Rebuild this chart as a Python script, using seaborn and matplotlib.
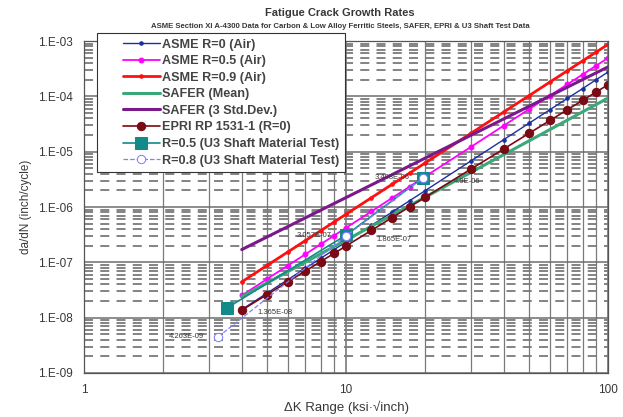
import numpy as np
import pandas as pd
import matplotlib
matplotlib.use("Agg")
import matplotlib.pyplot as plt
import seaborn as sns
from matplotlib.lines import Line2D
from matplotlib.legend_handler import HandlerLine2D
from matplotlib.ticker import LogLocator, FixedLocator, NullFormatter, FuncFormatter

# Stress intensity range points (ksi*sqrt(in)) where the curves carry markers
dk = [4, 5, 6, 7, 8, 9, 10, 12.5, 15, 17.5, 20, 30, 40, 50, 60, 70, 80, 90, 100]

asme_r0 = [1.40e-8, 2.78e-8, 4.87e-8, 7.82e-8, 1.18e-7, 1.69e-7, 2.34e-7, 4.64e-7,
           8.12e-7, 1.30e-6, 1.96e-6, 6.82e-6, 1.65e-5, 3.27e-5, 5.73e-5, 9.19e-5,
           1.38e-4, 1.99e-4, 2.75e-4]
asme_r05 = [2.52e-8, 5.0e-8, 8.75e-8, 1.40e-7, 2.12e-7, 3.04e-7, 4.2e-7, 8.3e-7,
            1.46e-6, 2.34e-6, 3.53e-6, 1.22e-5, 2.96e-5, 5.87e-5, 1.03e-4, 1.65e-4,
            2.48e-4, 3.57e-4, 4.93e-4]
asme_r09 = [4.43e-8, 8.8e-8, 1.54e-7, 2.47e-7, 3.72e-7, 5.34e-7, 7.39e-7, 1.47e-6,
            2.57e-6, 4.11e-6, 6.2e-6, 2.15e-5, 5.21e-5, 1.03e-4, 1.81e-4, 2.9e-4,
            4.37e-4, 6.28e-4, 8.67e-4]
epri_r0 = [1.365e-8, 2.62e-8, 4.45e-8, 6.98e-8, 1.03e-7, 1.45e-7, 1.97e-7, 3.78e-7,
           6.43e-7, 1.01e-6, 1.49e-6, 4.85e-6, 1.12e-5, 2.15e-5, 3.66e-5, 5.73e-5,
           8.46e-5, 1.19e-4, 1.62e-4]

# SAFER curves (end points)
safer_dk = [4, 100]
safer_mean = [2.4e-8, 9.3e-5]
safer_3sd = [1.7e-7, 3.4e-4]

# U3 shaft material tests
u3_r05_dk = [3.5, 10, 19.7]
u3_r05 = [1.48e-8, 3.1e-7, 3.4e-6]
u3_r05_lbl = ["1.365E-08", "1.865E-07", "4.9E-06"]
u3_r08_dk = [3.25, 10, 19.7]
u3_r08 = [4.5e-9, 3.0e-7, 3.4e-6]
u3_r08_lbl = ["4.263E-09", "3.057E-07", "3.408E-06"]

# axis ticks
x_ticks = [1, 10, 100]
y_ticks = [1e-9, 1e-8, 1e-7, 1e-6, 1e-5, 1e-4, 1e-3]

series = [
    ("ASME R=0 (Air)", dk, asme_r0, dict(color="#1c2fa0", lw=1.0, marker="o", ms=2.5)),
    ("ASME R=0.5 (Air)", dk, asme_r05, dict(color="#ff00ff", lw=1.3, marker="o", ms=3.5)),
    ("ASME R=0.9 (Air)", dk, asme_r09, dict(color="#ff1010", lw=2.0, marker="o", ms=2.5)),
    ("SAFER (Mean)", safer_dk, safer_mean, dict(color="#3aa878", lw=2.2)),
    ("SAFER (3 Std.Dev.)", safer_dk, safer_3sd, dict(color="#7a1a8a", lw=2.2)),
    ("EPRI RP 1531-1 (R=0)", dk, epri_r0, dict(color="#7a0a14", lw=1.2, marker="o", ms=6)),
    ("R=0.5 (U3 Shaft Material Test)", u3_r05_dk, u3_r05, dict(color="#128a8a", lw=1.2, marker="s", ms=8.5)),
    ("R=0.8 (U3 Shaft Material Test)", u3_r08_dk, u3_r08,
     dict(color="#8080ff", lw=0.9, ls="--", marker="o", ms=6, mfc="white")),
]

sns.set_style("white")
plt.rcParams["font.family"] = ["Liberation Sans", "DejaVu Sans"]
TXT = "#383838"

fig = plt.figure(figsize=(6.23, 4.17), dpi=100)
ax = fig.add_axes([84 / 623, 1 - 373 / 417, 524 / 623, 332 / 417])
ax.set_xscale("log")
ax.set_yscale("log")
ax.set_xlim(1, 100)
ax.set_ylim(1e-9, 1e-3)

ax.xaxis.set_major_locator(FixedLocator(x_ticks))
ax.yaxis.set_major_locator(FixedLocator(y_ticks))
ax.xaxis.set_minor_locator(LogLocator(base=10, subs=np.arange(2, 10)))
ax.yaxis.set_minor_locator(LogLocator(base=10, subs=np.arange(2, 10)))
ax.xaxis.set_minor_formatter(NullFormatter())
ax.yaxis.set_minor_formatter(NullFormatter())

# grid: solid majors, solid vertical minors, dashed horizontal minors
ax.grid(True, which="major", axis="both", color="#6e6e6e", lw=1.1)
ax.grid(True, which="minor", axis="x", color="#7a7a7a", lw=0.9)
ax.grid(True, which="minor", axis="y", color="#7a7a7a", lw=1.3, ls=(0, (5, 4)))
ax.set_axisbelow(True)

for name, x, y, kw in series:
    df = pd.DataFrame({"dk": x, "rate": y})
    style = dict(kw)
    color = style.pop("color")
    mfc = style.pop("mfc", color)
    sns.lineplot(data=df, x="dk", y="rate", ax=ax, color=color, label=name,
                 markeredgecolor=color, markerfacecolor=mfc, sort=False, **style)

# data labels on the shaft test points
for x, y, t in zip(u3_r05_dk, u3_r05, u3_r05_lbl):
    ax.annotate(t, (x, y), xytext=(22, -3), textcoords="offset points",
                fontsize=5.5, color=TXT, va="center")
for x, y, t in zip(u3_r08_dk, u3_r08, u3_r08_lbl):
    ax.annotate(t, (x, y), xytext=(-10, 0), textcoords="offset points",
                fontsize=5.5, color=TXT, va="center", ha="right")

ax.xaxis.set_major_formatter(FuncFormatter(lambda v, p: f"{v:g}"))
ax.yaxis.set_major_formatter(FuncFormatter(lambda v, p: "1.E%+03d" % int(round(np.log10(v)))))
ax.tick_params(axis="both", which="major", labelsize=8.5, colors=TXT, length=8,
               direction="inout", width=0.8, pad=4)
ax.tick_params(axis="both", which="minor", length=3, direction="in", width=0.6, color="#555555")
for s in ax.spines.values():
    s.set_color("#555555")
    s.set_linewidth(0.9)

ax.set_xlabel("\u0394K Range (ksi\u00b7\u221ainch)", fontsize=9.5, color=TXT, labelpad=3)
ax.set_ylabel("da/dN (inch/cycle)", fontsize=8.5, color=TXT, labelpad=4)

fig.text(340 / 623, 1 - 13 / 417, "Fatigue Crack Growth Rates", ha="center", va="center",
         fontsize=8, fontweight="bold", color=TXT)
fig.text(340 / 623, 1 - 26 / 417,
         "ASME Section XI A-4300 Data for Carbon & Low Alloy Ferritic Steels, SAFER, EPRI & U3 Shaft Test Data",
         ha="center", va="center", fontsize=5.6, fontweight="bold", color=TXT)

leg = ax.legend(loc="upper left", bbox_to_anchor=(13 / 524, 1 + 8 / 332), borderaxespad=0,
                frameon=True, fancybox=False, edgecolor="#333333",
                labelspacing=0.36, handlelength=4.5, handletextpad=0.2, borderpad=0.45,
                prop={"weight": "bold", "size": 9.1},
                handler_map={Line2D: HandlerLine2D(xpad=1.6)})
leg.get_frame().set_linewidth(0.8)
leg.get_frame().set_alpha(1)
for t in leg.get_texts():
    t.set_color("#444444")

fig.savefig("out.png", dpi=100)
